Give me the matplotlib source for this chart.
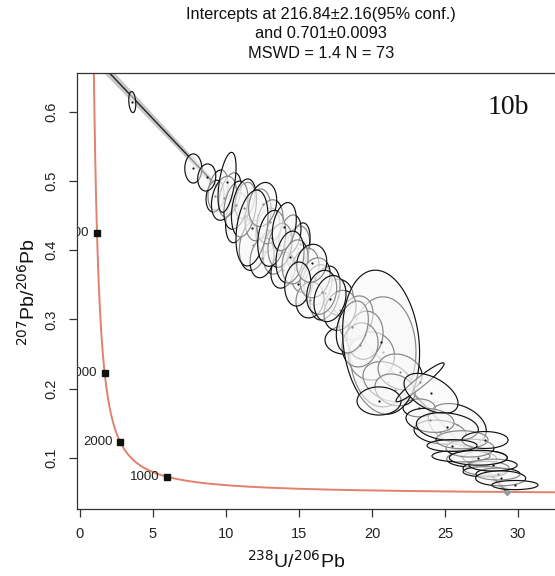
import numpy as np
import matplotlib
matplotlib.use("Agg")
import matplotlib.pyplot as plt
from matplotlib.patches import Polygon
from matplotlib.transforms import offset_copy

plt.rcParams['font.family'] = ['Liberation Sans', 'DejaVu Sans']

# Decay constants (per Myr) and present-day 238U/235U
LAMBDA_238 = 1.55125e-4
LAMBDA_235 = 9.8485e-4
U238_U235 = 137.818

# Regression results
lower_age = 216.84
lower_age_err = 2.16
upper_pb76 = 0.701
upper_pb76_err = 0.0093
mswd = 1.4

# Concordia age markers (Ma)
age_marks = [1000, 2000, 3000, 4000]

# Spot analyses: 238U/206Pb, 207Pb/206Pb, 1-sigma errors and error correlation
u238_pb206 = [
    9.45, 9.25, 10.73, 11.87, 12.88, 14.91, 15.07, 17.69, 18.15, 20.75,
    19.96, 21.10, 25.84, 26.83, 27.74, 27.81, 26.09, 27.74, 10.27, 12.19,
    13.42, 12.47, 14.38, 15.41, 16.30, 16.78, 18.90, 19.52, 21.92, 23.22,
    24.66, 28.63, 26.71, 11.30, 13.90, 15.75, 9.86, 10.68, 13.01, 13.70,
    14.73, 16.10, 17.81, 19.18, 21.57, 23.97, 26.16, 28.29,
    3.58, 7.76, 8.68, 10.07, 11.23, 12.51, 11.78, 13.13, 13.99, 14.38,
    15.87, 14.91, 16.55, 17.12, 18.65, 20.62, 20.48, 23.29, 24.04, 25.16,
    27.74, 25.48, 27.28, 28.81, 29.79,
]
s_u238_pb206 = [
    0.280, 0.252, 0.308, 0.392, 0.336, 0.336, 0.280, 0.420, 0.560, 0.923,
    0.644, 0.700, 0.811, 0.700, 0.616, 0.644, 0.811, 0.616, 0.308, 0.364,
    0.364, 0.336, 0.308, 0.392, 0.392, 0.420, 0.476, 0.504, 0.616, 0.448,
    0.728, 0.616, 0.672, 0.280, 0.336, 0.392, 0.350, 0.336, 0.364, 0.336,
    0.364, 0.420, 0.448, 0.504, 0.560, 0.672, 0.728, 0.672,
    0.098, 0.238, 0.252, 0.252, 0.350, 0.392, 0.448, 0.392, 0.336, 0.392,
    0.420, 0.364, 0.420, 0.448, 0.448, 1.077, 0.616, 0.672, 0.755, 0.867,
    0.644, 0.700, 0.811, 0.700, 0.644,
]
pb207_pb206 = [
    0.487, 0.478, 0.447, 0.407, 0.429, 0.403, 0.409, 0.332, 0.270, 0.253,
    0.247, 0.210, 0.148, 0.0981, 0.100, 0.0847, 0.1025, 0.0798, 0.480, 0.451,
    0.400, 0.389, 0.422, 0.371, 0.350, 0.338, 0.302, 0.277, 0.224, 0.172,
    0.137, 0.0764, 0.114, 0.472, 0.371, 0.328, 0.475, 0.465, 0.441, 0.407,
    0.383, 0.360, 0.313, 0.263, 0.198, 0.154, 0.126, 0.0894,
    0.614, 0.518, 0.505, 0.498, 0.461, 0.466, 0.432, 0.417, 0.434, 0.390,
    0.381, 0.351, 0.339, 0.330, 0.289, 0.267, 0.182, 0.209, 0.193, 0.1448,
    0.1256, 0.1176, 0.100, 0.0702, 0.0605,
]
s_pb207_pb206 = [
    0.0118, 0.0094, 0.0148, 0.0148, 0.0130, 0.0130, 0.0124, 0.0106, 0.0083, 0.0325,
    0.0142, 0.0118, 0.0124, 0.0047, 0.0041, 0.0041, 0.0035, 0.0030, 0.0130, 0.0153,
    0.0142, 0.0118, 0.0118, 0.0130, 0.0118, 0.0159, 0.0130, 0.0142, 0.0106, 0.0053,
    0.0071, 0.0035, 0.0053, 0.0106, 0.0106, 0.0106, 0.0130, 0.0142, 0.0130, 0.0130,
    0.0130, 0.0118, 0.0118, 0.0130, 0.0094, 0.0071, 0.0053, 0.0035,
    0.0062, 0.0086, 0.0080, 0.0177, 0.0171, 0.0130, 0.0224, 0.0165, 0.0142, 0.0153,
    0.0112, 0.0130, 0.0130, 0.0136, 0.0153, 0.0425, 0.0083, 0.0115, 0.0118, 0.0083,
    0.0050, 0.0035, 0.0044, 0.0044, 0.0027,
]
err_rho = [
    0.3, 0.2, 0.3, 0.2, 0.2, 0.2, 0.3, 0.0, 0.0, 0.0,
    0.0, -0.3, -0.3, 0.0, 0.0, 0.0, 0.0, 0.0, 0.4, 0.2,
    0.2, 0.2, 0.3, 0.2, 0.2, 0.3, 0.2, 0.1, -0.2, 0.0,
    -0.2, 0.0, 0.0, 0.3, 0.2, 0.1, 0.3, 0.3, 0.2, 0.2,
    0.2, 0.2, 0.2, 0.1, -0.2, -0.2, 0.0, 0.0,
    -0.2, 0.0, 0.1, 0.5, 0.3, 0.2, 0.3, 0.2, 0.3, 0.2,
    0.1, 0.1, 0.2, 0.2, 0.3, -0.15, 0.0, 0.95, -0.5, -0.2,
    0.0, 0.0, 0.0, 0.0, 0.0,
]


def tw_concordia(t):
    """Tera-Wasserburg concordia coordinates for age t (Ma)."""
    t = np.asarray(t, dtype=float)
    e8 = np.expm1(LAMBDA_238 * t)
    e5 = np.expm1(LAMBDA_235 * t)
    return 1.0 / e8, e5 / e8 / U238_U235


W, H = 555, 576
fig = plt.figure(figsize=(W / 100, H / 100), dpi=100)
ax_left, ax_right, ax_top, ax_bottom = 77, 555, 73, 509
ax = fig.add_axes([ax_left / W, 1 - ax_bottom / H,
                   (ax_right - ax_left) / W, (ax_bottom - ax_top) / H])
ax.set_xlim(-0.205, 32.53)
ax.set_ylim(0.0259, 0.656)

# Concordia curve
ages = np.concatenate([np.linspace(50, 600, 200), np.linspace(600, 5200, 600)])
cx, cy = tw_concordia(ages)
ax.plot(cx, cy, color='#E2816C', lw=1.4, zorder=2, solid_capstyle='butt')

mx, my = tw_concordia(age_marks)
ax.plot(mx, my, 's', color='#111111', ms=4.2, zorder=2.2)
lbl_tr = offset_copy(ax.transData, fig=fig, x=-5.5, y=0, units='points')
for a, x0, y0 in zip(age_marks, mx, my):
    t = ax.text(x0, y0, f"{a}", transform=lbl_tr, ha='right', va='center',
                fontsize=9.5, color='#222222', zorder=2.3)
    t.set_clip_on(True)
    t.set_clip_box(ax.bbox)

# Discordia line with its confidence band
x_lo, y_lo = tw_concordia(lower_age)
slope = (y_lo - upper_pb76) / (x_lo - 0.0)
xd = np.linspace(0.0, float(x_lo), 300)
yd = upper_pb76 + slope * xd
x_mid = 18.0
s_mid = 0.0015
s_slope = np.sqrt(upper_pb76_err ** 2 - s_mid ** 2) / x_mid
half = np.sqrt(s_mid ** 2 + (s_slope * (xd - x_mid)) ** 2)
ax.fill_between(xd, yd - half, yd + half, color='#BDBDBD', alpha=0.85,
                lw=0, zorder=2.4)
ax.plot(xd, yd, color='#222222', lw=1.0, zorder=2.5)

# Error ellipses (95% confidence)
k95 = np.sqrt(-2.0 * np.log(0.05))
theta = np.linspace(0, 2 * np.pi, 120)
circ = np.vstack([np.cos(theta), np.sin(theta)])
z = 3.0
for x0, sx, y0, sy, r in zip(u238_pb206, s_u238_pb206, pb207_pb206,
                             s_pb207_pb206, err_rho):
    cov = np.array([[sx * sx, r * sx * sy], [r * sx * sy, sy * sy]])
    L = np.linalg.cholesky(cov)
    pts = (L @ circ) * k95
    poly = Polygon(np.column_stack([x0 + pts[0], y0 + pts[1]]), closed=True,
                   facecolor=(0.975, 0.975, 0.975, 0.5), edgecolor='#111111',
                   lw=0.85, zorder=z)
    ax.add_patch(poly)
    ax.plot([x0], [y0], 'o', color='#111111', ms=1.6, mew=0, zorder=z + 0.5)
    z += 1.0

# Lower intercept marker
ax.plot([x_lo], [y_lo], 'D', color='#9A9A9A', ms=3, zorder=2.6)

# Axes styling
for side in ('left', 'bottom', 'top'):
    ax.spines[side].set_color('#333333')
    ax.spines[side].set_linewidth(0.9)
ax.spines['right'].set_visible(False)
ax.set_xticks([0, 5, 10, 15, 20, 25, 30])
ax.set_yticks([0.1, 0.2, 0.3, 0.4, 0.5, 0.6])
ax.set_yticklabels(['0.1', '0.2', '0.3', '0.4', '0.5', '0.6'])
ax.tick_params(axis='both', direction='out', length=5.5, width=0.9,
               color='#333333', labelsize=10.5, labelcolor='#222222')
ax.tick_params(axis='x', pad=7.5)
ax.tick_params(axis='y', pad=8, labelrotation=90)
for lbl in ax.get_yticklabels():
    lbl.set_va('center')

# Axis titles
fig.text(296 / W, 1 - 561 / H, r'$^{238}$U/$^{206}$Pb', ha='center',
         va='center', fontsize=14, color='#111111')
fig.text(28 / W, 1 - 292 / H, r'$^{207}$Pb/$^{206}$Pb', ha='center',
         va='center', rotation=90, fontsize=14, color='#111111')

# Regression summary
title_x = 321 / W
fig.text(title_x, 1 - 15 / H,
         f"Intercepts at {lower_age:.2f}\u00b1{lower_age_err:.2f}(95% conf.)",
         ha='center', va='center', fontsize=11.8, color='#111111')
fig.text(title_x, 1 - 34 / H, f"and {upper_pb76:.3f}\u00b1{upper_pb76_err:.4f}",
         ha='center', va='center', fontsize=11.8, color='#111111')
fig.text(title_x, 1 - 53 / H, f"MSWD = {mswd} N = {len(u238_pb206)}",
         ha='center', va='center', fontsize=11.8, color='#111111')

# Panel label
fig.text(508 / W, 1 - 108 / H, '10b', ha='center', va='center', fontsize=20,
         family=['Liberation Serif', 'DejaVu Serif'], color='#111111')

fig.savefig('out.png', dpi=100)
